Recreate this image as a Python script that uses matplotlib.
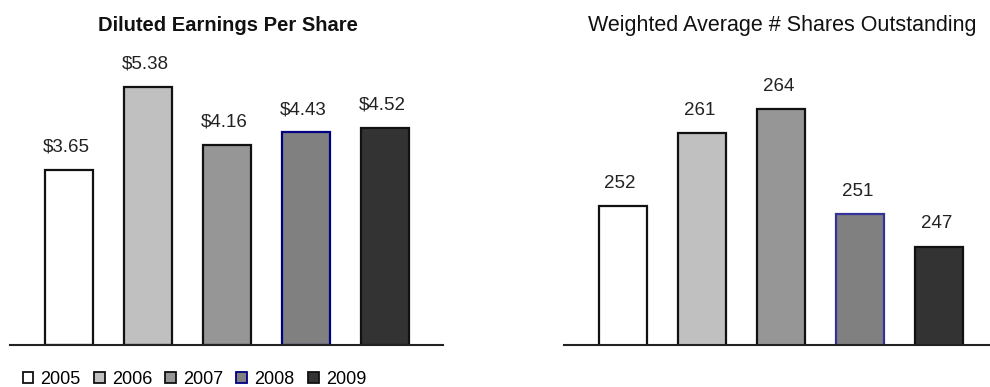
import matplotlib
matplotlib.use('Agg')
import matplotlib.pyplot as plt
from matplotlib.patches import Patch

plt.rcParams['font.family'] = ['Liberation Sans', 'DejaVu Sans']

# data
years = ['2005', '2006', '2007', '2008', '2009']
eps = [3.65, 5.38, 4.16, 4.43, 4.52]
shares = [252, 261, 264, 251, 247]

# styles per year
fills = ['#ffffff', '#c0c0c0', '#969696', '#808080', '#333333']
edges_left = ['#111111', '#111111', '#111111', '#000080', '#111111']
edges_right = ['#111111', '#111111', '#111111', '#333399', '#111111']

fig = plt.figure(figsize=(9.9, 3.87), dpi=100)

# left chart - diluted EPS
ax1 = fig.add_axes([0.0101, 0.1085, 0.4374, 0.7365])
x = range(len(years))
ax1.bar(x, eps, width=0.61, color=fills, edgecolor=edges_left, linewidth=1.6)
for i, v in enumerate(eps):
    ax1.annotate(f'${v:.2f}', (i, v), xytext=(-2, 16.5), textcoords='offset points',
                 ha='center', va='center', fontsize=13.5, color='#222222')
ax1.set_xlim(-0.747, 4.73)
ax1.set_ylim(0, 5.94)

# right chart - weighted average shares
ax2 = fig.add_axes([0.5697, 0.1085, 0.4303, 0.7365])
ax2.bar(x, shares, width=0.61, color=fills, edgecolor=edges_right, linewidth=1.6)
for i, v in enumerate(shares):
    ax2.annotate(f'{v}', (i, v), xytext=(-2, 16.5), textcoords='offset points',
                 ha='center', va='center', fontsize=13.5, color='#222222')
ax2.set_xlim(-0.747, 4.646)
ax2.set_ylim(234.8, 270.1)

for ax in (ax1, ax2):
    for s in ['top', 'right', 'left']:
        ax.spines[s].set_visible(False)
    ax.spines['bottom'].set_linewidth(1.5)
    ax.spines['bottom'].set_color('#222222')
    ax.set_xticks([])
    ax.set_yticks([])
    ax.patch.set_alpha(0)

# titles
fig.text(0.230, 0.933, 'Diluted Earnings Per Share', ha='center', va='center',
         fontsize=14.5, fontweight='bold', color='#111111')
fig.text(0.790, 0.933, 'Weighted Average # Shares Outstanding', ha='center', va='center',
         fontsize=15.5, color='#111111')

# legend
handles = [Patch(facecolor=fills[i], edgecolor=edges_left[i], linewidth=1.3) for i in range(5)]
fig.legend(handles, years, loc='lower left', bbox_to_anchor=(0.01, -0.035), ncol=5,
           frameon=False, fontsize=13, handlelength=0.6, handleheight=0.6,
           handletextpad=0.4, columnspacing=0.72, borderpad=0.2)

plt.savefig('out.png', dpi=100)
